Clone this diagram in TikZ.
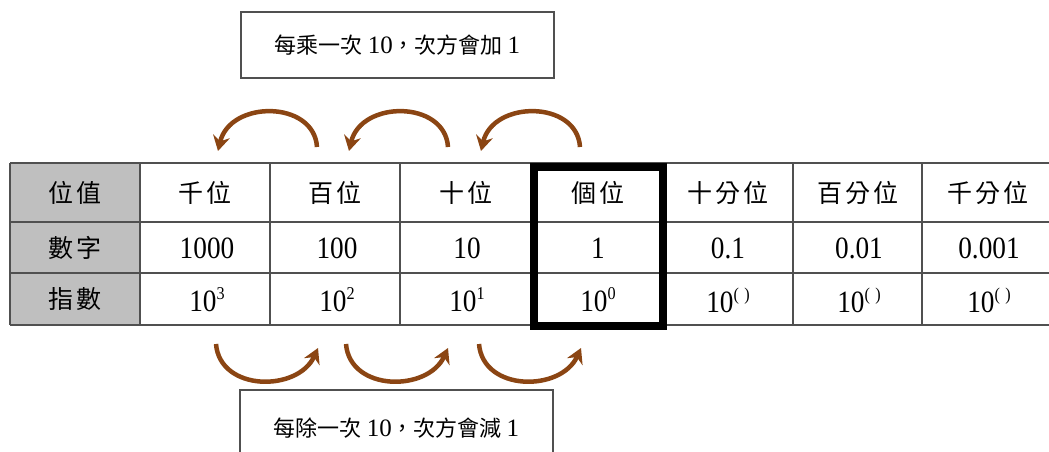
\documentclass[tikz,border=0pt]{standalone}
\usepackage{fontspec}
\setmainfont{Liberation Serif}
\newfontfamily\cjk{Noto Sans CJK TC}
\usetikzlibrary{arrows.meta}
\definecolor{arrbrown}{HTML}{8B4513}
\definecolor{gridcol}{HTML}{505050}
\newcommand{\hz}[1]{{\cjk\fontsize{25}{25}\selectfont #1}}
\newcommand{\num}[1]{\scalebox{0.88}[1]{\fontsize{31}{31}\selectfont #1}}
\newcommand{\sx}[1]{\raisebox{12pt}{\scalebox{0.9}[1]{\fontsize{18}{18}\selectfont #1}}}
\newcommand{\lat}[1]{{\rmfamily\fontsize{25}{25}\selectfont #1}}
\begin{document}
\begin{tikzpicture}[x=1pt,y=-1pt,
  cell/.style={inner sep=0pt},
  note/.style={inner sep=0pt,font=\cjk\fontsize{22}{22}\selectfont},
  arcarrow/.style={draw=arrbrown,line width=4.5pt,-{Stealth[width=17pt,length=15pt,inset=5pt]}},
  frame/.style={draw=gridcol,line width=1.3pt}]
\useasboundingbox (0,0) rectangle (1049,452);
% gray column
\fill[gray!50] (10,163) rectangle (140,325);
% grid
\foreach \y in {163,222,273,325} \draw[frame] (10,\y) -- (1049,\y);
\foreach \x in {10,140,270,400,532,663,793,922} \draw[frame] (\x,163) -- (\x,325);
% header row
\node[cell] (h0) at (75,193) {\hz{位\hspace{3pt}值}};
\node[cell] (h1) at (205,193) {\hz{千\hspace{3pt}位}};
\node[cell] (h2) at (335,193) {\hz{百\hspace{3pt}位}};
\node[cell] (h3) at (466,193) {\hz{十\hspace{3pt}位}};
\node[cell] (h4) at (598,193) {\hz{個\hspace{3pt}位}};
\node[cell] (h5) at (728,193) {\hz{十\hspace{3pt}分\hspace{3pt}位}};
\node[cell] (h6) at (858,193) {\hz{百\hspace{3pt}分\hspace{3pt}位}};
\node[cell] (h7) at (988,193) {\hz{千\hspace{3pt}分\hspace{3pt}位}};
% number row
\node[cell] (n0) at (75,248) {\hz{數\hspace{3pt}字}};
\node[cell] (n1) at (207,248) {\num{1000}};
\node[cell] (n2) at (337,248) {\num{100}};
\node[cell] (n3) at (467,248) {\num{10}};
\node[cell] (n4) at (598,248) {\num{1}};
\node[cell] (n5) at (728,248) {\num{0.1}};
\node[cell] (n6) at (859,248) {\num{0.01}};
\node[cell] (n7) at (989,248) {\num{0.001}};
% exponent row
\node[cell] (e0) at (75,299) {\hz{指\hspace{3pt}數}};
\node[cell] (e1) at (207,300) {\num{10}\sx{3}};
\node[cell] (e2) at (337,300) {\num{10}\sx{2}};
\node[cell] (e3) at (467,300) {\num{10}\sx{1}};
\node[cell] (e4) at (598,300) {\num{10}\sx{0}};
\node[cell] (e5) at (728,300) {\num{10}\sx{(\,\,)}};
\node[cell] (e6) at (859,300) {\num{10}\sx{(\,\,)}};
\node[cell] (e7) at (989,300) {\num{10}\sx{(\,\,)}};
% thick frame round the ones column
\draw[line width=8pt] (534,167) rectangle (662.5,326);
% top note
\node[note,draw=gridcol,line width=1.2pt,minimum width=313pt,minimum height=66pt] (top) at (397.5,45) {每乘一次 \lat{10}，次方會加 \lat{1}};
% bottom note
\node[note] (bot) at (396.5,428) {每除一次 \lat{10}，次方會減 \lat{1}};
\draw[frame] (240,456) -- (240,390) -- (553,390) -- (553,456);
% top arcs (right to left)
\foreach \i/\dx in {1/0,2/131,3/263}{
  \coordinate (ts\i) at ({317+\dx},147);
  \coordinate (te\i) at ({218+\dx},151);
  \draw[arcarrow] (ts\i) .. controls ({314+\dx},100) and ({230+\dx},100) .. (te\i);
}
% bottom arcs (left to right)
\foreach \i/\dx in {1/0,2/130,3/263}{
  \coordinate (bs\i) at ({216+\dx},344);
  \coordinate (be\i) at ({318+\dx},348);
  \draw[arcarrow] (bs\i) .. controls ({220+\dx},392) and ({298+\dx},392) .. (be\i);
}
\end{tikzpicture}
\end{document}
